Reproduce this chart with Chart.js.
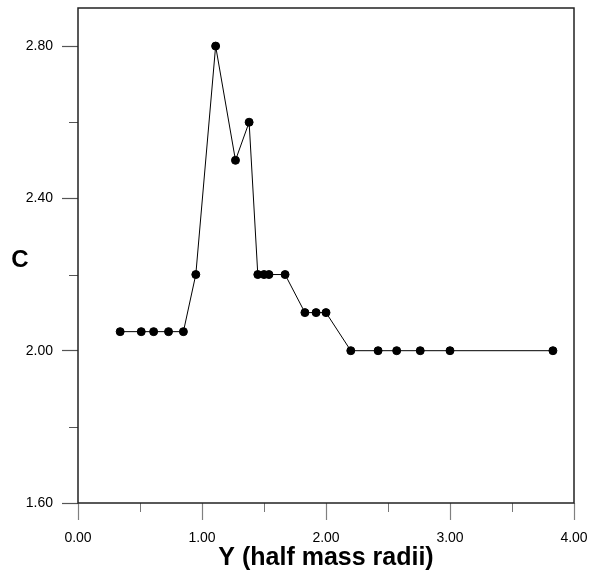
<!DOCTYPE html>
<html>
<head>
<meta charset="utf-8">
<script src="https://cdn.jsdelivr.net/npm/chart.js@4"></script>
<style>
  html, body { margin: 0; padding: 0; background: #ffffff; }
  #wrap { width: 590px; height: 573px; }
</style>
</head>
<body>
<div id="wrap"><canvas id="cChart" width="590" height="573"></canvas></div>
<script>
// radius in half mass radii
const radius = [0.34, 0.51, 0.61, 0.73, 0.85, 0.95, 1.11, 1.27, 1.38, 1.45, 1.50, 1.54, 1.67,
  1.83, 1.92, 2.00, 2.20, 2.42, 2.57, 2.76, 3.00, 3.83]
// concentration C
const cValues = [2.05, 2.05, 2.05, 2.05, 2.05, 2.20, 2.80, 2.50, 2.60, 2.20, 2.20, 2.20, 2.20,
  2.10, 2.10, 2.10, 2.00, 2.00, 2.00, 2.00, 2.00, 2.00]

const xMajorTicks = [0, 1, 2, 3, 4]
const xMinorTicks = [0.5, 1.5, 2.5, 3.5]
const yMajorTicks = [1.6, 2.0, 2.4, 2.8]
const yMinorTicks = [1.8, 2.2, 2.6]

const fontFamily = '"Liberation Sans", Arial, Helvetica, sans-serif'

// frame, minor ticks and the upright "C" label
const frameAndExtras = {
  id: 'frameAndExtras',
  afterDraw(chart) {
    const ctx = chart.ctx
    const area = chart.chartArea
    const xs = chart.scales.x
    const ys = chart.scales.y
    ctx.save()

    ctx.lineWidth = 1
    ctx.strokeStyle = '#777777'
    xMinorTicks.forEach(v => {
      const px = Math.round(xs.getPixelForValue(v)) + 0.5
      ctx.beginPath()
      ctx.moveTo(px, area.bottom)
      ctx.lineTo(px, area.bottom + 9)
      ctx.stroke()
    })
    ctx.strokeStyle = '#555555'
    yMinorTicks.forEach(v => {
      const py = Math.round(ys.getPixelForValue(v)) + 0.5
      ctx.beginPath()
      ctx.moveTo(area.left - 9, py)
      ctx.lineTo(area.left, py)
      ctx.stroke()
    })

    ctx.lineWidth = 1.5
    ctx.strokeStyle = '#222222'
    ctx.strokeRect(area.left, area.top, area.right - area.left, area.bottom - area.top)

    ctx.fillStyle = '#000000'
    ctx.font = 'bold 24px ' + fontFamily
    ctx.textAlign = 'center'
    ctx.textBaseline = 'middle'
    ctx.fillText('C', 20, 260)
    ctx.restore()
  }
}

const initChart = () => {
  const ctx = document.getElementById('cChart').getContext('2d')

  let scales_chart = {
    x: {
      type: 'linear',
      min: 0,
      max: 4,
      afterBuildTicks: (scale) => { scale.ticks = xMajorTicks.map(v => ({ value: v })) },
      afterFit: (scale) => {
        scale.height = 70
        scale.paddingLeft = 0
        scale.paddingRight = 0
      },
      border: { display: false },
      grid: {
        drawOnChartArea: false,
        tickLength: 17,
        tickColor: '#808080',
        tickWidth: 1.2
      },
      ticks: {
        color: '#000000',
        padding: 10,
        maxRotation: 0,
        font: { size: 14, family: fontFamily },
        callback: (value) => Number(value).toFixed(2)
      },
      title: {
        display: true,
        text: 'Y (half mass radii)',
        color: '#000000',
        padding: { top: 0, bottom: 0 },
        font: { size: 25, weight: 'bold', family: fontFamily }
      }
    },
    y: {
      type: 'linear',
      min: 1.6,
      max: 2.9,
      afterBuildTicks: (scale) => { scale.ticks = yMajorTicks.map(v => ({ value: v })) },
      afterFit: (scale) => {
        scale.width = 78
        scale.paddingTop = 0
        scale.paddingBottom = 0
      },
      border: { display: false },
      grid: {
        drawOnChartArea: false,
        tickLength: 16,
        tickColor: '#555555',
        tickWidth: 1.2
      },
      ticks: {
        color: '#000000',
        padding: 9,
        font: { size: 14, family: fontFamily },
        callback: (value) => Number(value).toFixed(2)
      }
    }
  }

  new Chart(ctx, {
    type: 'line',
    data: {
      datasets: [{
        label: 'C',
        data: radius.map((r, i) => ({ x: r, y: cValues[i] })),
        borderColor: '#000000',
        borderWidth: 1,
        backgroundColor: '#000000',
        pointBackgroundColor: '#000000',
        pointBorderColor: '#000000',
        pointRadius: 4,
        pointBorderWidth: 1,
        tension: 0,
        fill: false,
        clip: false
      }]
    },
    options: {
      responsive: false,
      animation: false,
      layout: { padding: { top: 8, right: 16, left: 0, bottom: 0 } },
      plugins: {
        legend: { display: false },
        title: { display: false },
        tooltip: { enabled: false }
      },
      scales: scales_chart
    },
    plugins: [frameAndExtras]
  })
}

initChart()
</script>
</body>
</html>
